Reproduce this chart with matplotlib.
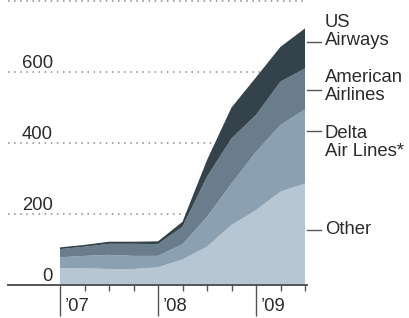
import matplotlib
matplotlib.use("Agg")
import matplotlib.pyplot as plt
import matplotlib.transforms as mtransforms

plt.rcParams['font.family'] = ['Liberation Sans', 'DejaVu Sans']

# quarterly points, fractional years
quarters = [2007.0, 2007.25, 2007.5, 2007.75, 2008.0, 2008.25,
            2008.5, 2008.75, 2009.0, 2009.25, 2009.5]
other = [47, 47, 45, 45, 50, 72, 108, 169, 211, 263, 286]
delta = [31, 35, 40, 37, 32, 43, 84, 117, 164, 188, 209]
american = [23, 26, 31, 34, 33, 49, 113, 127, 104, 122, 115]
us_airways = [5, 5, 6, 6, 8, 14, 47, 87, 106, 98, 113]

series_names = ["Other", "Delta\nAir Lines*", "American\nAirlines", "US\nAirways"]
colors = ["#b6c6d3", "#8ba1b2", "#697d8c", "#34434b"]

years = [2007, 2008, 2009]
year_labels = ["\u201907", "\u201908", "\u201909"]
yticks = [200, 400, 600, 800]

fig = plt.figure(figsize=(4.10, 3.18), dpi=100)
W, H = 410, 318
ax = fig.add_axes([8 / W, (H - 285) / H, 299 / W, 285 / H])

ax.stackplot(quarters, other, delta, american, us_airways,
             colors=colors, linewidth=0, zorder=2)

ax.set_xlim(2007 - 52 / 98, 2009.5 + 2 / 98)
ax.set_ylim(0, 803)

# dotted gridlines
for v in yticks:
    ax.axhline(v, color="#8a8a8a", lw=1.1, ls=(0, (1, 3)), zorder=1)

# baseline
ax.axhline(0, color="#555555", lw=1.4, zorder=3, clip_on=False)

for s in ax.spines.values():
    s.set_visible(False)
ax.set_yticks([])

# ticks: long at year starts, short at quarters
ax.set_xticks(years)
ax.set_xticks(quarters, minor=True)
ax.set_xticklabels([])
ax.tick_params(axis="x", which="major", length=22, width=1.0,
               color="#555555", direction="out")
ax.tick_params(axis="x", which="minor", length=4.5, width=1.0,
               color="#555555", direction="out")

txt = "#2b2b2b"
fs = 13.3

for yr, lab in zip(years, year_labels):
    ax.annotate(lab, xy=(yr, 0), xytext=(5, -26), textcoords="offset pixels",
                ha="left", va="baseline", fontsize=fs, color=txt,
                annotation_clip=False)

# y labels above the gridlines
tr = mtransforms.blended_transform_factory(ax.transAxes, ax.transData)
for v in [0, 200, 400, 600]:
    ax.annotate(str(v), xy=(45 / 299, v), xycoords=tr, xytext=(0, 4),
                textcoords="offset pixels", ha="right", va="baseline",
                fontsize=fs, color=txt)

# right-side labels with short leader lines
leader_y = [155, 434, 549, 685]
label_y = [155, 402, 559, 715]
trf = mtransforms.blended_transform_factory(fig.transFigure, ax.transData)
for name, ly, ty in zip(series_names, leader_y, label_y):
    ax.plot([307 / W, 321 / W], [ly, ly], transform=trf, color="#555555",
            lw=1.0, clip_on=False)
    ax.text(325 / W, ty, name, transform=trf, ha="left", va="center",
            fontsize=fs, color=txt, linespacing=1.05)

fig.savefig("out.png", dpi=100)
